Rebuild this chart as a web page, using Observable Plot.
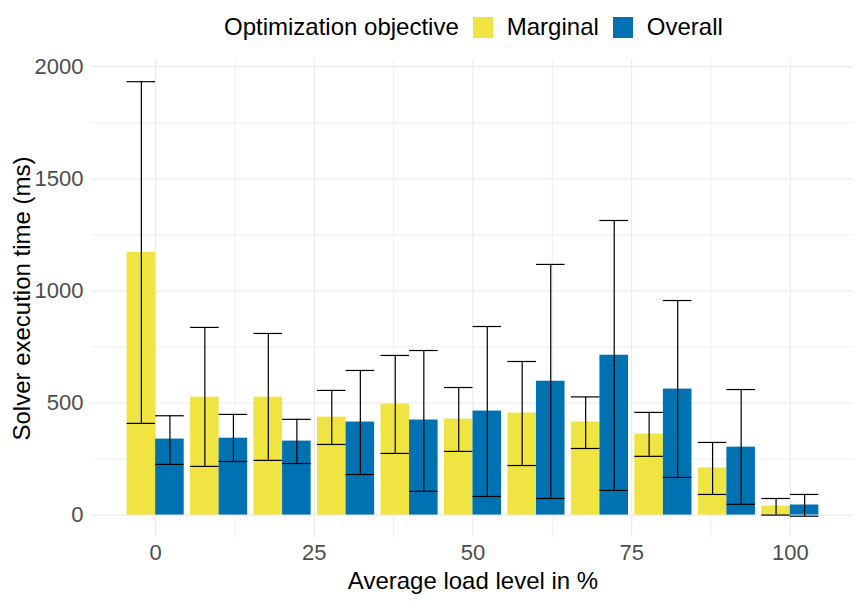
<!DOCTYPE html>
<html>
<head>
<meta charset="utf-8">
<script src="https://cdn.jsdelivr.net/npm/d3@7"></script>
<script src="https://cdn.jsdelivr.net/npm/@observablehq/plot@0.6"></script>
<style>
  html, body { margin: 0; padding: 0; background: #fff; }
  body { width: 861px; height: 602px; overflow: hidden; font-family: "Liberation Sans", Arial, sans-serif; }
  #legend { height: 54px; display: flex; align-items: center; padding-left: 224px; box-sizing: border-box; font-size: 24px; color: #000; }
  #legend .key { width: 20px; height: 21px; display: inline-block; }
  #legend .gap { width: 14px; display: inline-block; }
</style>
</head>
<body>
<div id="legend"></div>
<div id="chart"></div>
<script>
const loads = [0, 10, 20, 30, 40, 50, 60, 70, 80, 90, 100];
const series = ["Marginal", "Overall"];
const colors = ["#F0E442", "#0072B2"];

const marginalMean = [1172, 526, 526, 437, 495, 428, 455, 415, 361, 210, 40];
const marginalLo   = [409, 217, 244, 315, 275, 284, 221, 297, 262, 92, 0];
const marginalHi   = [1933, 837, 810, 556, 712, 569, 685, 527, 458, 324, 74];

const overallMean = [339, 343, 330, 415, 424, 464, 597, 713, 562, 303, 45];
const overallLo   = [226, 239, 230, 181, 106, 83, 74, 110, 168, 48, -5];
const overallHi   = [443, 449, 427, 645, 734, 841, 1118, 1314, 957, 560, 92];

const xTicks = [0, 25, 50, 75, 100];
const xMinor = [12.5, 37.5, 62.5, 87.5];
const yTicks = [0, 500, 1000, 1500, 2000];
const yMinor = [250, 750, 1250, 1750];

const legendTitle = "Optimization objective";
const xTitle = "Average load level in %";
const yTitle = "Solver execution time (ms)";

// dodge: each group 9 units wide, each bar half of it
const half = 4.5;
const rows = loads.flatMap((l, i) => [
  {load: l, series: "Marginal", mean: marginalMean[i], lo: marginalLo[i], hi: marginalHi[i], x1: l - half, x2: l},
  {load: l, series: "Overall", mean: overallMean[i], lo: overallLo[i], hi: overallHi[i], x1: l, x2: l + half}
]);
rows.forEach(d => d.xc = (d.x1 + d.x2) / 2);

// legend
const lg = document.getElementById("legend");
const addSpan = (cls, text, color) => {
  const s = document.createElement("span");
  if (cls) s.className = cls;
  if (text) s.textContent = text;
  if (color) s.style.background = color;
  lg.appendChild(s);
};
addSpan(null, legendTitle);
series.forEach((s, i) => {
  addSpan("gap");
  addSpan("key", null, colors[i]);
  addSpan("gap");
  addSpan(null, s);
});

const grid = "#EBEBEB";
const chart = Plot.plot({
  width: 861,
  height: 548,
  marginLeft: 92,
  marginRight: 8,
  marginTop: 5,
  marginBottom: 65,
  style: {fontFamily: "'Liberation Sans', Arial, sans-serif", background: "#fff"},
  x: {domain: [-9.95, 109.95]},
  y: {domain: [-100, 2032]},
  color: {domain: series, range: colors},
  marks: [
    Plot.ruleY(yMinor, {stroke: grid, strokeWidth: 0.8}),
    Plot.ruleY(yTicks, {stroke: grid, strokeWidth: 1.2}),
    Plot.ruleX(xMinor, {stroke: grid, strokeWidth: 0.8}),
    Plot.ruleX(xTicks, {stroke: grid, strokeWidth: 1.2}),
    Plot.rectY(rows, {x1: "x1", x2: "x2", y1: 0, y2: "mean", fill: "series"}),
    Plot.ruleX(rows, {x: "xc", y1: "lo", y2: "hi", stroke: "black", strokeWidth: 1.2}),
    Plot.ruleY(rows, {y: "lo", x1: "x1", x2: "x2", stroke: "black", strokeWidth: 1.2}),
    Plot.ruleY(rows, {y: "hi", x1: "x1", x2: "x2", stroke: "black", strokeWidth: 1.2}),
    Plot.axisX(xTicks, {tickSize: 0, tickPadding: 7, fontSize: 22, fill: "#4D4D4D", label: null, tickFormat: d => String(d)}),
    Plot.axisY(yTicks, {tickSize: 0, tickPadding: 9, fontSize: 22, fill: "#4D4D4D", label: null, tickFormat: d => String(d)}),
    Plot.text([xTitle], {frameAnchor: "bottom", dy: 51, fontSize: 24, fill: "black"}),
    Plot.text([yTitle], {frameAnchor: "left", textAnchor: "middle", dx: -70, rotate: -90, fontSize: 24, fill: "black"})
  ]
});
document.getElementById("chart").appendChild(chart);
</script>
</body>
</html>
